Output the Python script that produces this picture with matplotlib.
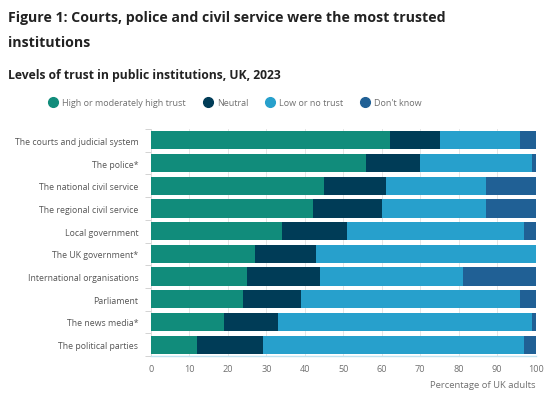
import matplotlib
matplotlib.use("Agg")
import matplotlib.pyplot as plt
from matplotlib.lines import Line2D
import numpy as np

plt.rcParams['font.family'] = ['Open Sans', 'DejaVu Sans']

categories = ["The courts and judicial system", "The police*", "The national civil service",
              "The regional civil service", "Local government", "The UK government*",
              "International organisations", "Parliament", "The news media*", "The political parties"]
series_names = ["High or moderately high trust", "Neutral", "Low or no trust", "Don't know"]
high = [62, 56, 45, 42, 34, 27, 25, 24, 19, 12]
neutral = [13, 14, 16, 18, 17, 16, 19, 15, 14, 17]
low = [21, 29, 26, 27, 46, 57, 37, 57, 66, 68]
dont_know = [4, 1, 13, 13, 3, 0, 19, 4, 1, 3]
colors = ["#118c7b", "#003c57", "#27a0cc", "#206095"]
xticks = [0, 10, 20, 30, 40, 50, 60, 70, 80, 90, 100]

fig = plt.figure(figsize=(5.5, 4.02), dpi=100)
W, H = 550, 402
ax = fig.add_axes([151 / W, 1 - 357 / H, (535.7 - 151) / W, (357 - 130) / H])

y = np.arange(len(categories))
left = np.zeros(len(categories))
for vals, c, name in zip([high, neutral, low, dont_know], colors, series_names):
    ax.barh(y, vals, left=left, height=0.8, color=c, label=name, zorder=3)
    left += np.array(vals)

ax.set_ylim(len(categories) - 0.5, -0.5)
ax.set_xlim(0, 100)
ax.set_xticks(xticks)
ax.set_xticklabels([str(t) for t in xticks], color="#707070", fontsize=6.6)
ax.set_yticks(y)
ax.set_yticklabels(categories, color="#555555", fontsize=6.3)
ax.tick_params(axis='y', length=0, pad=9)
ax.tick_params(axis='x', length=0, pad=6)
ax.set_yticks(np.arange(-0.5, len(categories), 1), minor=True)
ax.tick_params(axis='y', which='minor', length=4, color="#cccccc")
ax.grid(axis='x', color="#e5e5e5", linewidth=0.7, zorder=0)
for s in ['top', 'right']:
    ax.spines[s].set_visible(False)
ax.spines['left'].set_color("#dddddd")
ax.spines['left'].set_linewidth(0.7)
ax.spines['bottom'].set_color("#bfe3f0")
ax.spines['bottom'].set_linewidth(1)

fig.text(535 / W, 1 - 386 / H, "Percentage of UK adults", ha='right', va='center',
         fontsize=6.8, color="#707070")

fig.text(8 / W, 1 - 18 / H, "Figure 1: Courts, police and civil service were the most trusted",
         ha='left', va='center', fontsize=10.2, fontweight='bold', color="#222222")
fig.text(8 / W, 1 - 43 / H, "institutions", ha='left', va='center',
         fontsize=10.2, fontweight='bold', color="#222222")
fig.text(8 / W, 1 - 75 / H, "Levels of trust in public institutions, UK, 2023", ha='left',
         va='center', fontsize=8.7, fontweight='bold', color="#222222")

handles = [Line2D([0], [0], marker='o', linestyle='', markersize=7, markerfacecolor=c,
                  markeredgecolor=c) for c in colors]
fig.legend(handles, series_names, loc='center', bbox_to_anchor=(235 / W, 1 - 104 / H),
           ncol=4, frameon=False, fontsize=6.5, labelcolor="#707070", handletextpad=0.5,
           columnspacing=1.9, handlelength=1.0)

fig.savefig("out.png", dpi=100, facecolor="white")
